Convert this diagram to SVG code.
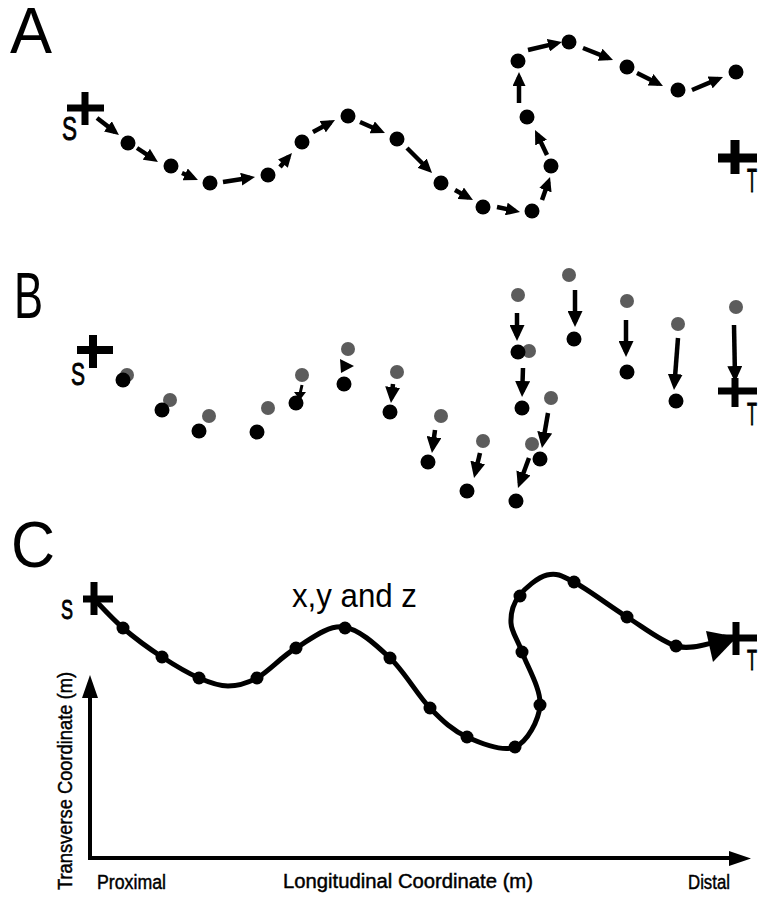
<svg xmlns="http://www.w3.org/2000/svg" width="761" height="897" viewBox="0 0 761 897">
  <style>
    .panel { font-family: "Liberation Sans", Arial, sans-serif; font-size: 64px; fill: #000; }
    .end { font-family: "Liberation Sans", Arial, sans-serif; fill: #000; }
    .st { font-family: "Liberation Sans", Arial, sans-serif; fill: #000; stroke: #000; stroke-width: 0.9; }
    .lbl { font-family: "Liberation Sans", Arial, sans-serif; font-size: 20px; fill: #000; stroke: #000; stroke-width: 0.45; }
    .dot { fill: #000; }
    .old { fill: #5c5c5c; }
    .cross { stroke: #000; fill: none; stroke-linecap: butt; }
    .arrA { stroke: #000; stroke-width: 4.5; fill: none; marker-end: url(#headA); }
    .arrB { stroke: #000; stroke-width: 4.5; fill: none; marker-end: url(#headB); }
    .track { stroke: #000; stroke-width: 5; fill: none; stroke-linejoin: round; }
    .axis { stroke: #000; stroke-width: 4; fill: none; }
  </style>
  <defs>
    <marker id="headA" markerUnits="userSpaceOnUse" viewBox="0 0 14 13" markerWidth="14" markerHeight="13" refX="9" refY="6.5" orient="auto">
      <path d="M0,0 L14,6.5 L0,13 z" fill="#000"/>
    </marker>
    <marker id="headB" markerUnits="userSpaceOnUse" viewBox="0 0 16 15" markerWidth="16" markerHeight="15" refX="11" refY="7.5" orient="auto">
      <path d="M0,0 L16,7.5 L0,15 z" fill="#000"/>
    </marker>
  </defs>

  <!-- Panel letters -->
  <text class="panel" x="10" y="53" textLength="42" lengthAdjust="spacingAndGlyphs">A</text>
  <text class="panel" x="14" y="318" textLength="29" lengthAdjust="spacingAndGlyphs">B</text>
  <text class="panel" x="11" y="567" font-size="58" textLength="44" lengthAdjust="spacingAndGlyphs">C</text>

  <!-- ===== Panel A: stepwise path ===== -->
  <g id="a-start">
    <path class="cross" stroke-width="7" d="M67,108 H104 M85,92 V125"/>
    <text class="st" x="62" y="140" font-size="34" textLength="15" lengthAdjust="spacingAndGlyphs">S</text>
  </g>
  <g id="a-target">
    <path class="cross" stroke-width="9" d="M718,158 H757 M735,140 V174"/>
    <text class="st" x="747" y="192" font-size="34" textLength="10" lengthAdjust="spacingAndGlyphs">T</text>
  </g>
  <g id="a-points">
    <circle id="a-p1" class="dot" cx="128" cy="143" r="7.5"/>
    <circle id="a-p2" class="dot" cx="171" cy="166" r="7.5"/>
    <circle id="a-p3" class="dot" cx="210" cy="183" r="7.5"/>
    <circle id="a-p4" class="dot" cx="268" cy="175" r="7.5"/>
    <circle id="a-p5" class="dot" cx="302" cy="142" r="7.5"/>
    <circle id="a-p6" class="dot" cx="348" cy="116" r="7.5"/>
    <circle id="a-p7" class="dot" cx="397" cy="139" r="7.5"/>
    <circle id="a-p8" class="dot" cx="441" cy="183" r="7.5"/>
    <circle id="a-p9" class="dot" cx="483" cy="207" r="7.5"/>
    <circle id="a-p10" class="dot" cx="532" cy="211" r="7.5"/>
    <circle id="a-p11" class="dot" cx="551" cy="166" r="7.5"/>
    <circle id="a-p12" class="dot" cx="527" cy="117" r="7.5"/>
    <circle id="a-p13" class="dot" cx="518" cy="61" r="7.5"/>
    <circle id="a-p14" class="dot" cx="569" cy="42" r="7.5"/>
    <circle id="a-p15" class="dot" cx="627" cy="67" r="7.5"/>
    <circle id="a-p16" class="dot" cx="678" cy="90" r="7.5"/>
    <circle id="a-p17" class="dot" cx="736" cy="72" r="7.5"/>
  </g>
  <g id="a-connectors">
    <line class="arrA" x1="97" y1="118" x2="115" y2="131.9"/>
    <line class="arrA" x1="137" y1="148" x2="153.8" y2="159.2"/>
    <line class="arrA" x1="182" y1="173" x2="193.4" y2="178"/>
    <line class="arrA" x1="223" y1="182" x2="250.1" y2="177.8"/>
    <line class="arrA" x1="280" y1="167" x2="288.7" y2="156.8"/>
    <line class="arrA" x1="313" y1="132" x2="330.6" y2="122.4"/>
    <line class="arrA" x1="360" y1="122" x2="380.4" y2="131"/>
    <line class="arrA" x1="407" y1="148" x2="428.5" y2="169.5"/>
    <line class="arrA" x1="455" y1="190" x2="468.6" y2="197.6"/>
    <line class="arrA" x1="497" y1="207" x2="515.1" y2="210.9"/>
    <line class="arrA" x1="542" y1="200" x2="548.4" y2="181.7"/>
    <line class="arrA" x1="547" y1="155" x2="537.2" y2="134.5"/>
    <line class="arrA" x1="519" y1="103" x2="519" y2="77"/>
    <line class="arrA" x1="528" y1="50" x2="557.1" y2="43.1"/>
    <line class="arrA" x1="583" y1="48" x2="608.4" y2="58.1"/>
    <line class="arrA" x1="637" y1="73" x2="658.5" y2="83.8"/>
    <line class="arrA" x1="692" y1="90" x2="718.4" y2="78.9"/>
  </g>

  <!-- ===== Panel B: displacement of each point ===== -->
  <g id="b-start">
    <path class="cross" stroke-width="8" d="M77,350 H113 M93,335 V368"/>
    <text class="st" x="71" y="385" font-size="32" textLength="14" lengthAdjust="spacingAndGlyphs">S</text>
  </g>
  <g id="b-old">
    <circle class="old" cx="127" cy="375" r="7"/>
    <circle class="old" cx="170" cy="400" r="7"/>
    <circle class="old" cx="209" cy="416" r="7"/>
    <circle class="old" cx="268" cy="408" r="7"/>
    <circle class="old" cx="302" cy="375" r="7"/>
    <circle class="old" cx="348" cy="349" r="7"/>
    <circle class="old" cx="397" cy="372" r="7"/>
    <circle class="old" cx="441" cy="416" r="7"/>
    <circle class="old" cx="483" cy="441" r="7"/>
    <circle class="old" cx="532" cy="444" r="7"/>
    <circle class="old" cx="551" cy="398" r="7"/>
    <circle class="old" cx="529" cy="351" r="7"/>
    <circle class="old" cx="518" cy="295" r="7"/>
    <circle class="old" cx="569" cy="275" r="7"/>
    <circle class="old" cx="627" cy="301" r="7"/>
    <circle class="old" cx="678" cy="324" r="7"/>
    <circle class="old" cx="736" cy="307" r="7"/>
  </g>
  <g id="b-new">
    <circle class="dot" cx="123" cy="380" r="7.5"/>
    <circle class="dot" cx="162" cy="410" r="7.5"/>
    <circle class="dot" cx="199" cy="431" r="7.5"/>
    <circle class="dot" cx="257" cy="432" r="7.5"/>
    <circle class="dot" cx="296" cy="403" r="7.5"/>
    <circle class="dot" cx="344" cy="384" r="7.5"/>
    <circle class="dot" cx="390" cy="412" r="7.5"/>
    <circle class="dot" cx="428" cy="462" r="7.5"/>
    <circle class="dot" cx="467" cy="491" r="7.5"/>
    <circle class="dot" cx="516" cy="501" r="7.5"/>
    <circle class="dot" cx="540" cy="459" r="7.5"/>
    <circle class="dot" cx="522" cy="408" r="7.5"/>
    <circle class="dot" cx="518" cy="352" r="7.5"/>
    <circle class="dot" cx="574" cy="339" r="7.5"/>
    <circle class="dot" cx="627" cy="372" r="7.5"/>
    <circle class="dot" cx="676" cy="401" r="7.5"/>
  </g>
  <g id="b-target">
    <path class="cross" stroke-width="7" d="M718,391 H757 M735,378 V407"/>
    <text class="st" x="747" y="425" font-size="32" textLength="10" lengthAdjust="spacingAndGlyphs">T</text>
  </g>
  <g id="b-connectors">
    <line x1="302" y1="385" x2="300" y2="394" stroke="#000" stroke-width="3"/>
    <polygon points="294,392 306,392 300,400" fill="#000"/>
    <polygon points="340,359 354,366 341,373" fill="#000"/>
    <line class="arrB" x1="393" y1="384" x2="391.5" y2="398"/>
    <line class="arrB" x1="435" y1="430" x2="432.6" y2="448"/>
    <line class="arrB" x1="480" y1="453" x2="475.2" y2="473.1"/>
    <line class="arrB" x1="529" y1="458" x2="519.7" y2="483.3"/>
    <line class="arrB" x1="548" y1="413" x2="542.8" y2="443.1"/>
    <line class="arrB" x1="523" y1="368" x2="522.2" y2="392"/>
    <line class="arrB" x1="517" y1="313" x2="517" y2="336"/>
    <line class="arrB" x1="575" y1="290" x2="575" y2="322"/>
    <line class="arrB" x1="626" y1="320" x2="626" y2="352"/>
    <line class="arrB" x1="678" y1="338" x2="674.4" y2="385"/>
    <line class="arrB" x1="734" y1="325" x2="735" y2="377"/>
  </g>

  <!-- ===== Panel C: smoothed track ===== -->
  <g id="c-connectors">
    <path class="track" d="M94,599 C98.8,603.8 111.7,618.3 123,628 C134.3,637.7 149.3,648.7 162,657 C174.7,665.3 188,673.2 199,678 C210,682.8 218.3,686 228,686 C237.7,686 245.7,684.3 257,678 C268.3,671.7 281.7,656.5 296,648 C310.3,639.5 327.3,625.3 343,627 C358.7,628.7 375.5,644.5 390,658 C404.5,671.5 417.2,694.8 430,708 C442.8,721.2 452.8,730.5 467,737 C481.2,743.5 502.8,752.3 515,747 C527.2,741.7 538.8,720.8 540,705 C541.2,689.2 526.8,665.7 522,652 C517.2,638.3 511.5,632.3 511,623 C510.5,613.7 513,604 519,596 C525,588 537.8,577.3 547,575 C556.2,572.7 560.7,575 574,582 C587.3,589 610,606.3 627,617 C644,627.7 661.5,641.7 676,646 C690.5,650.3 707.7,643.5 716,642"/>
    <polygon points="706,631 737,637 713,662" fill="#000"/>
  </g>
  <g id="c-start">
    <path class="cross" stroke-width="7" d="M83,599 H113 M94,582 V615"/>
    <text class="st" x="61" y="619" font-size="28" textLength="12" lengthAdjust="spacingAndGlyphs">S</text>
  </g>
  <g id="c-target">
    <path class="cross" stroke-width="7" d="M723,638 H757 M736,622 V655"/>
    <text class="st" x="747" y="670" font-size="30" textLength="10" lengthAdjust="spacingAndGlyphs">T</text>
  </g>
  <g id="c-points">
    <circle class="dot" cx="123" cy="628" r="6.5"/>
    <circle class="dot" cx="162" cy="657" r="6.5"/>
    <circle class="dot" cx="199" cy="678" r="6.5"/>
    <circle class="dot" cx="257" cy="678" r="6.5"/>
    <circle class="dot" cx="296" cy="648" r="6.5"/>
    <circle class="dot" cx="345" cy="628" r="6.5"/>
    <circle class="dot" cx="390" cy="658" r="6.5"/>
    <circle class="dot" cx="430" cy="708" r="6.5"/>
    <circle class="dot" cx="467" cy="737" r="6.5"/>
    <circle class="dot" cx="515" cy="747" r="6.5"/>
    <circle class="dot" cx="540" cy="705" r="6.5"/>
    <circle class="dot" cx="522" cy="652" r="6.5"/>
    <circle class="dot" cx="520" cy="596" r="6.5"/>
    <circle class="dot" cx="574" cy="582" r="6.5"/>
    <circle class="dot" cx="627" cy="617" r="6.5"/>
    <circle class="dot" cx="676" cy="646" r="6.5"/>
  </g>
  <g id="c-caption">
    <text class="end" x="292" y="607" font-size="34" textLength="125" lengthAdjust="spacingAndGlyphs">x,y and z</text>
  </g>

  <!-- Axes -->
  <g id="axes">
    <line class="axis" x1="90" y1="697" x2="90" y2="860"/>
    <polygon points="90,675 82,698 98,698" fill="#000"/>
    <line class="axis" x1="88" y1="858" x2="732" y2="858"/>
    <polygon points="751,858.5 729,851 729,866" fill="#000"/>
    <text class="lbl" x="97" y="889" textLength="69" lengthAdjust="spacingAndGlyphs">Proximal</text>
    <text class="lbl" x="283" y="888" font-size="21" textLength="250" lengthAdjust="spacingAndGlyphs">Longitudinal Coordinate (m)</text>
    <text class="lbl" x="688" y="889" textLength="42" lengthAdjust="spacingAndGlyphs">Distal</text>
    <text class="lbl" transform="translate(72,890) rotate(-90)" x="0" y="0" font-size="23" textLength="218" lengthAdjust="spacingAndGlyphs">Transverse Coordinate (m)</text>
  </g>
</svg>
